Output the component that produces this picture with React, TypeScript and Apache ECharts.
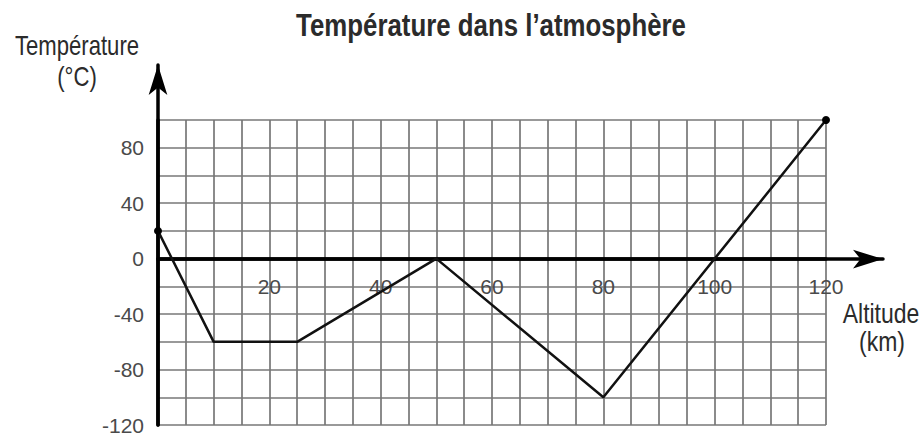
import React, { useEffect, useRef } from "react";
import * as echarts from "echarts";

const altitudes = [0, 10, 25, 50, 80, 120];
const temperatures = [20, -60, -60, 0, -100, 100];
const markedEnds = [true, false, false, false, false, true];
const titleText = "Température dans l’atmosphère";
const yNameLines = ["Température", "(°C)"];
const xNameLines = ["Altitude", "(km)"];

const FONT = "'Liberation Sans', Arial, sans-serif";
const NARROW_SCALE = 0.82;

export default function App() {
  const ref = useRef<HTMLDivElement>(null);
  useEffect(() => {
    if (!ref.current) return;
    const chart = echarts.init(ref.current, undefined, { renderer: "svg" });
    const data = altitudes.map((a, i) =>
      markedEnds[i]
        ? { value: [a, temperatures[i]], symbol: "circle", symbolSize: 8 }
        : { value: [a, temperatures[i]], symbol: "none" }
    );
    const gridLine = { show: true, lineStyle: { color: "#777", width: 1.7 } };
    const axisBlack = { color: "#000", width: 3.5 };
    const noGrid = { containLabel: false, outerBoundsMode: "none" };
    const textEl = (text: string, x: number, y: number, size: number, weight: string) => ({
      type: "text",
      x,
      y,
      scaleX: NARROW_SCALE,
      style: {
        text,
        fontFamily: FONT,
        fontSize: size,
        fontWeight: weight,
        fill: "#2b2b2b",
        align: "center",
        verticalAlign: "middle",
      },
    });
    const tickLabel = {
      fontFamily: FONT,
      fontSize: 21,
      color: "#4a4a4a",
    };
    const top = 120;
    const bottom = 13;
    const zeroHeight = 139.09;
    chart.setOption({
      animation: false,
      backgroundColor: "#fff",
      grid: [
        { left: 158, right: 97, top, bottom, ...noGrid },
        { left: 158, right: 40, top, height: zeroHeight, ...noGrid },
        { left: 158, width: 10, top: 65, bottom, ...noGrid },
        { left: 158, right: 97, top, height: zeroHeight, ...noGrid },
      ],
      xAxis: [
        {
          type: "value",
          gridIndex: 0,
          min: 0,
          max: 120,
          interval: 5,
          axisLine: { show: true, onZero: true, lineStyle: axisBlack },
          axisTick: { show: false },
          splitLine: gridLine,
          axisLabel: { show: false },
        },
        {
          type: "value",
          gridIndex: 1,
          position: "bottom",
          min: 0,
          max: 1,
          axisLine: { show: true, onZero: false, symbol: ["none", "arrow"], symbolSize: [14, 30], lineStyle: axisBlack },
          axisTick: { show: false },
          axisLabel: { show: false },
          splitLine: { show: false },
        },
        { type: "value", gridIndex: 2, show: false, min: 0, max: 1 },
        {
          type: "value",
          gridIndex: 3,
          position: "bottom",
          min: 0,
          max: 120,
          interval: 5,
          axisLine: { show: false, onZero: false },
          axisTick: { show: false },
          splitLine: { show: false },
          axisLabel: {
            margin: 17,
            ...tickLabel,
            formatter: (v: number) => (v > 0 && v % 20 === 0 ? String(v) : ""),
          },
        },
      ],
      yAxis: [
        {
          type: "value",
          gridIndex: 0,
          min: -120,
          max: 100,
          interval: 20,
          axisLine: { show: true, onZero: true, lineStyle: axisBlack },
          axisTick: { show: false },
          splitLine: gridLine,
          axisLabel: {
            margin: 14,
            ...tickLabel,
            formatter: (v: number) => (v % 40 === 0 ? String(v) : ""),
          },
        },
        { type: "value", gridIndex: 1, show: false, min: 0, max: 1 },
        {
          type: "value",
          gridIndex: 2,
          position: "left",
          min: 0,
          max: 1,
          axisLine: { show: true, onZero: false, symbol: ["none", "arrow"], symbolSize: [14, 30], lineStyle: axisBlack },
          axisTick: { show: false },
          axisLabel: { show: false },
          splitLine: { show: false },
        },
        { type: "value", gridIndex: 3, show: false, min: 0, max: 1 },
      ],
      series: [
        {
          type: "line",
          xAxisIndex: 0,
          yAxisIndex: 0,
          data,
          showSymbol: true,
          clip: false,
          lineStyle: { color: "#111", width: 2.5 },
          itemStyle: { color: "#000" },
          z: 5,
        },
      ],
      graphic: [
        textEl(titleText, 491, 25, 31.5, "bold"),
        textEl(yNameLines[0], 77, 46, 27, "normal"),
        textEl(yNameLines[1], 77, 77, 27, "normal"),
        textEl(xNameLines[0], 881, 313, 28, "normal"),
        textEl(xNameLines[1], 882, 341, 28, "normal"),
      ],
    });
    return () => chart.dispose();
  }, []);
  return (
    <div
      ref={ref}
      style={{ position: "absolute", left: 0, top: 0, width: 923, height: 438, background: "#fff" }}
    />
  );
}
